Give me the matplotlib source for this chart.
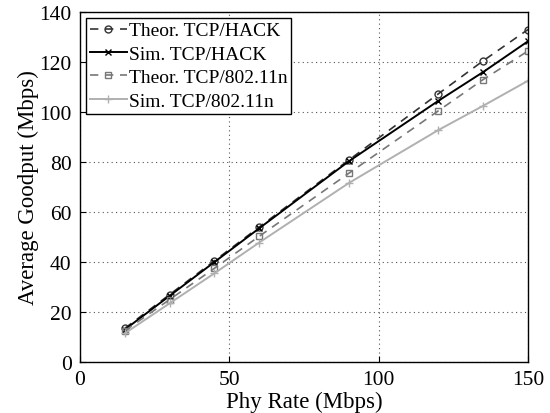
import matplotlib
matplotlib.use("Agg")
import matplotlib.pyplot as plt

plt.rcParams['font.family'] = ['Liberation Serif', 'DejaVu Serif']
plt.rcParams['mathtext.fontset'] = 'stix'

phy_rate = [15, 30, 45, 60, 90, 120, 135, 150]
theor_hack = [13.5, 27, 40.5, 54, 80.8, 107.3, 120.5, 133.0]
sim_hack = [13.0, 26.5, 40.0, 53.5, 80.3, 104.5, 116.0, 128.3]
theor_11n = [12.5, 25.0, 37.5, 50.3, 75.5, 100.5, 113.0, 124.4]
sim_11n = [11.5, 23.5, 35.5, 47.8, 71.6, 92.8, 102.5, 112.5]

labels = ['Theor. TCP/HACK', 'Sim. TCP/HACK', 'Theor. TCP/802.11n', 'Sim. TCP/802.11n']

fig = plt.figure(figsize=(5.5, 4.14), dpi=100)
ax = fig.add_axes([0.1455, 0.123, 0.8145, 0.8456])

ax.plot(phy_rate, theor_hack, linestyle='--', color='#333333', marker='o', markersize=5,
        markerfacecolor='none', markeredgecolor='#333333', lw=1.2, label=labels[0], dashes=(5, 4))
ax.plot(phy_rate, sim_hack, linestyle='-', color='black', marker='x', markersize=4.5,
        lw=1.4, label=labels[1])
ax.plot(phy_rate, theor_11n, linestyle='--', color='#777777', marker='s', markersize=5,
        markerfacecolor='none', markeredgecolor='#777777', lw=1.2, label=labels[2], dashes=(5, 4))
ax.plot(phy_rate, sim_11n, linestyle='-', color='#b0b0b0', marker='+', markersize=6,
        lw=1.4, label=labels[3])

ax.set_xlim(0, 150)
ax.set_ylim(0, 140)
ax.set_xticks([0, 50, 100, 150])
ax.set_yticks(range(0, 141, 20))
ax.grid(True, linestyle=(0, (1, 3)), color='#555555', lw=0.8)
ax.tick_params(labelsize=15.5, direction='in', length=4, width=0.8, pad=6)
for s in ax.spines.values():
    s.set_linewidth(1.0)
ax.set_xlabel('Phy Rate (Mbps)', fontsize=16.5, labelpad=1)
ax.set_ylabel('Average Goodput (Mbps)', fontsize=16.5, labelpad=0)

leg = ax.legend(loc='upper left', fontsize=14, frameon=True, fancybox=False,
                edgecolor='black', framealpha=1, borderaxespad=0.3, handlelength=1.9,
                handletextpad=0.1, labelspacing=0.3, borderpad=0.2)
leg.get_frame().set_linewidth(1.0)

fig.savefig('out.png', dpi=100)
